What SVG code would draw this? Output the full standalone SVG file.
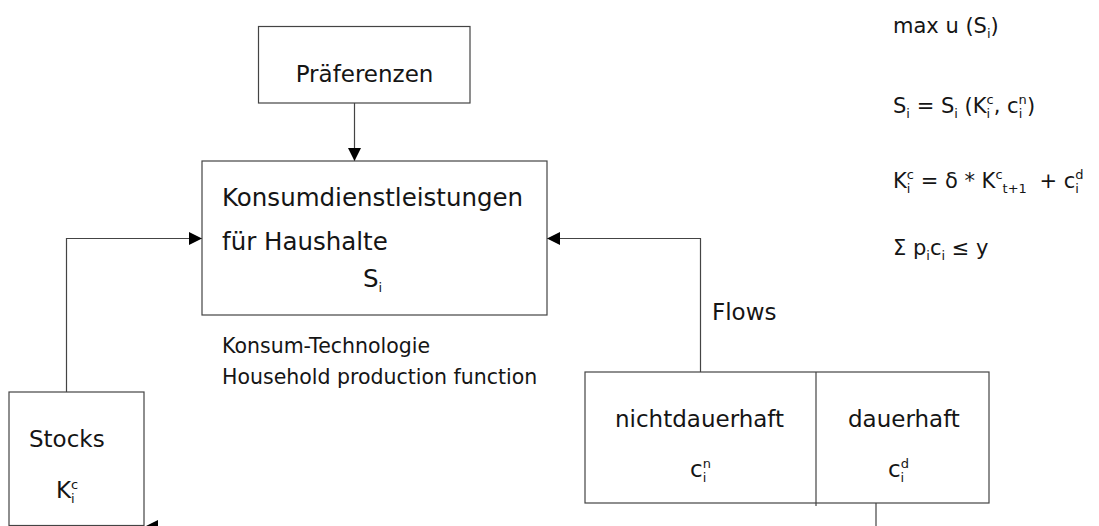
<svg xmlns="http://www.w3.org/2000/svg" width="1099" height="526" viewBox="0 0 1099 526">
  <style>
    .box { fill: #ffffff; stroke: #444444; stroke-width: 1.2; }
    .wire { fill: none; stroke: #444444; stroke-width: 1.2; }
    text { font-family: "DejaVu Sans", "Liberation Sans", sans-serif; fill: #151515; }
    .lbl { font-size: 23px; }
    .big { font-size: 24.5px; }
    .note { font-size: 20.5px; }
    .eq { font-size: 21px; }
    .s { font-size: 13px; }
  </style>
  <defs>
    <marker id="arrow" markerUnits="userSpaceOnUse" markerWidth="13" markerHeight="13" refX="13" refY="6.5" orient="auto">
      <path d="M0,0 L13,6.5 L0,13 Z" fill="#000000"/>
    </marker>
  </defs>

  <rect width="1099" height="526" fill="#ffffff"/>

  <!-- connectors -->
  <g id="connectors">
    <path class="wire" d="M354.5,103 L354.5,161" marker-end="url(#arrow)"/>
    <path class="wire" d="M66.5,392 L66.5,238.5 L202,238.5" marker-end="url(#arrow)"/>
    <path class="wire" d="M700.5,372 L700.5,238.5 L547,238.5" marker-end="url(#arrow)"/>
    <path class="wire" d="M876,503 L876,526.5 L145,526.5" marker-end="url(#arrow)"/>
  </g>

  <!-- preferences -->
  <g id="praeferenzen">
    <rect class="box" x="258.5" y="26.5" width="211.5" height="76.5"/>
    <text class="lbl" x="364.5" y="82" text-anchor="middle">Präferenzen</text>
  </g>

  <!-- consumption services -->
  <g id="konsumdienstleistungen">
    <rect class="box" x="202" y="161" width="345" height="154"/>
    <text class="big" x="222" y="206">Konsumdienstleistungen</text>
    <text class="big" x="222" y="250">für Haushalte</text>
    <text class="big" x="363" y="287">S<tspan class="s" dy="5">i</tspan></text>
  </g>

  <!-- technology note -->
  <g id="technologie">
    <text class="note" x="222" y="353">Konsum-Technologie</text>
    <text class="note" x="222" y="384">Household production function</text>
  </g>

  <!-- stocks -->
  <g id="stocks">
    <rect class="box" x="9" y="392" width="135" height="133.5"/>
    <text class="lbl" x="29" y="447">Stocks</text>
    <text class="lbl" x="56" y="498">K<tspan class="s" dy="-9">c</tspan><tspan class="s" dx="-7.2" dy="14">i</tspan></text>
  </g>

  <!-- flows -->
  <g id="flows">
    <text class="lbl" x="712" y="320">Flows</text>
    <rect class="box" x="585" y="372" width="404" height="131"/>
    <path class="wire" d="M816,372 L816,506"/>
    <text class="lbl" x="615" y="427">nichtdauerhaft</text>
    <text class="lbl" x="690" y="477">c<tspan class="s" dy="-9">n</tspan><tspan class="s" dx="-8.2" dy="14">i</tspan></text>
    <text class="lbl" x="848" y="427">dauerhaft</text>
    <text class="lbl" x="888" y="477">c<tspan class="s" dy="-9">d</tspan><tspan class="s" dx="-8.3" dy="14">i</tspan></text>
  </g>

  <!-- model equations -->
  <g id="gleichungen">
    <text class="eq" x="893" y="33">max u (S<tspan class="s" dy="5">i</tspan><tspan dy="-5">)</tspan></text>
    <text class="eq" x="893" y="113">S<tspan class="s" dy="5">i</tspan><tspan dy="-5"> = S</tspan><tspan class="s" dy="5">i</tspan><tspan dy="-5"> (K</tspan><tspan class="s" dy="-9">c</tspan><tspan class="s" dx="-7.2" dy="14">i</tspan><tspan dx="3.6" dy="-5">, c</tspan><tspan class="s" dy="-9">n</tspan><tspan class="s" dx="-8.2" dy="14">i</tspan><tspan dx="4.6" dy="-5">)</tspan></text>
    <text class="eq" x="893" y="188">K<tspan class="s" dy="-9">c</tspan><tspan class="s" dx="-7.2" dy="14">i</tspan><tspan dx="3.6" dy="-5"> = δ * K</tspan><tspan class="s" dy="-9">c</tspan><tspan class="s" dy="14">t+1</tspan><tspan dx="6" dy="-5"> + c</tspan><tspan class="s" dy="-9">d</tspan><tspan class="s" dx="-8.3" dy="14">i</tspan></text>
    <text class="eq" x="893" y="255">Σ p<tspan class="s" dy="5">i</tspan><tspan dy="-5">c</tspan><tspan class="s" dy="5">i</tspan><tspan dy="-5"> ≤ y</tspan></text>
  </g>
</svg>
